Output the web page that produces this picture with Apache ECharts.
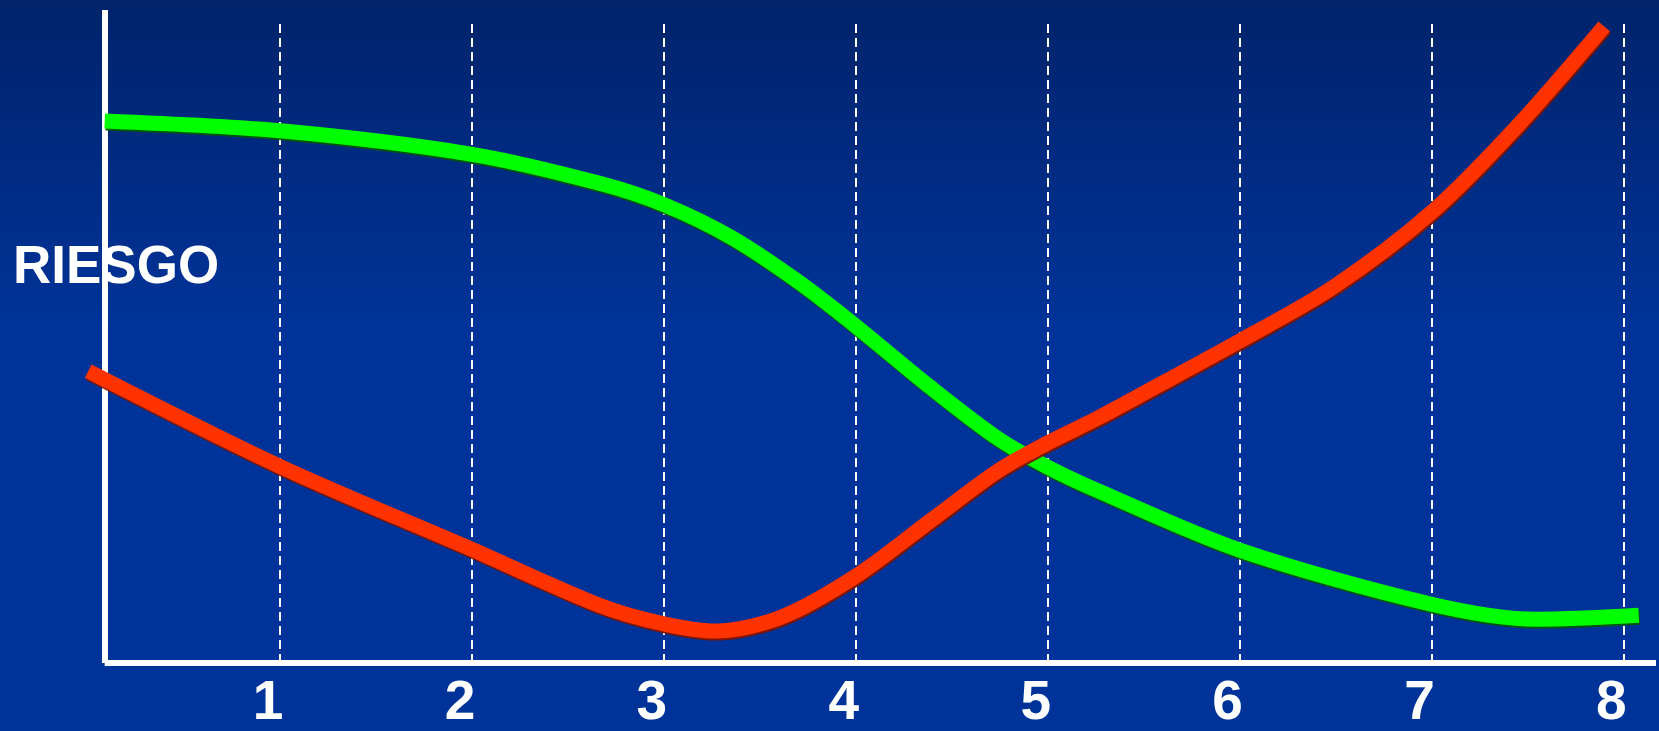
<!DOCTYPE html>
<html>
<head>
<meta charset="utf-8">
<script src="https://cdn.jsdelivr.net/npm/echarts@6/dist/echarts.min.js"></script>
<style>
html,body{margin:0;padding:0;width:1659px;height:731px;overflow:hidden;background:#003399;}
#chart{width:1659px;height:731px;}
</style>
</head>
<body>
<div id="chart"></div>
<script>
// ---- data ----
const xTicks = [1, 2, 3, 4, 5, 6, 7, 8];
const xTickLabels = ['1', '2', '3', '4', '5', '6', '7', '8'];
const yTitle = 'RIESGO';

const greenX = [0.086, 1, 2, 2.66, 3, 3.35, 3.7, 4, 4.39, 4.74, 5, 5.26, 6, 7, 7.55, 8.08];
const greenY = [83.0, 81.5, 77.9, 73.5, 70.2, 65.2, 58.4, 51.6, 42.2, 34.4, 30.0, 26.4, 17.3, 9.0, 6.7, 7.3];

const redX = [0, 1, 2, 2.66, 3, 3.27, 3.61, 4, 4.39, 4.74, 5, 5.26, 5.5, 6, 6.49, 7, 7.45, 7.9];
const redY = [44.7, 30.1, 17.4, 8.9, 6.0, 4.9, 7.0, 13.3, 21.8, 29.4, 33.7, 37.5, 41.3, 49.3, 57.6, 69.0, 82.3, 97.5];

// ---- layout constants ----
const X_MAX = 8.17;
const Y_MAX = 100;
const AXIS_X = 0.086;     // where the vertical axis stands
const DASH_TOP = 97.9;    // top of dashed guide lines

const chart = echarts.init(document.getElementById('chart'), null, {renderer: 'canvas'});

const zip = (xs, ys) => xs.map((x, i) => [x, ys[i]]);

const guideLines = xTicks.map(t => [{coord: [t, 0]}, {coord: [t, DASH_TOP]}]);
const axisLines = [
  [{coord: [AXIS_X, 0]}, {coord: [AXIS_X, Y_MAX]}],
  [{coord: [AXIS_X, 0]}, {coord: [X_MAX, 0]}]
];

const option = {
  animation: false,
  backgroundColor: {
    type: 'linear', x: 0, y: 0, x2: 0, y2: 1,
    colorStops: [
      {offset: 0, color: '#00236B'},
      {offset: 0.45, color: '#003399'},
      {offset: 1, color: '#003399'}
    ]
  },
  title: {
    text: yTitle,
    left: 13,
    top: 242,
    padding: 0,
    textStyle: {
      color: '#ffffff',
      fontSize: 53,
      fontWeight: 'bold',
      fontFamily: 'Liberation Sans, Arial, sans-serif'
    }
  },
  grid: {left: 88.2, right: 0, top: 10, bottom: 66, containLabel: false},
  xAxis: {
    type: 'value',
    min: 0,
    max: X_MAX,
    interval: 1,
    axisLine: {show: false},
    axisTick: {show: false},
    splitLine: {show: false},
    axisLabel: {
      show: true,
      margin: 13,
      padding: [0, 24, 0, 0],
      color: '#ffffff',
      fontSize: 55,
      fontWeight: 'bold',
      fontFamily: 'Liberation Sans, Arial, sans-serif',
      textShadowColor: 'rgba(0,0,0,0.85)',
      textShadowOffsetX: 3,
      textShadowOffsetY: 3,
      textShadowBlur: 0,
      formatter: v => {
        const i = xTicks.indexOf(Math.round(v));
        return (i >= 0 && Math.abs(v - xTicks[i]) < 1e-6) ? xTickLabels[i] : '';
      }
    }
  },
  yAxis: {
    type: 'value',
    min: 0,
    max: Y_MAX,
    show: false
  },
  series: [
    {
      name: 'guides',
      type: 'line',
      data: [],
      clip: false,
      silent: true,
      z: 1,
      markLine: {
        silent: true,
        symbol: ['none', 'none'],
        label: {show: false},
        animation: false,
        lineStyle: {color: '#ffffff', width: 2, type: [9, 5], opacity: 1},
        data: guideLines
      }
    },
    {
      name: 'axes',
      type: 'line',
      data: [],
      clip: false,
      silent: true,
      z: 2,
      markLine: {
        silent: true,
        symbol: ['none', 'none'],
        label: {show: false},
        animation: false,
        lineStyle: {color: '#ffffff', width: 6, type: 'solid', opacity: 1},
        data: axisLines
      }
    },
    {
      name: 'verde',
      type: 'line',
      data: zip(greenX, greenY),
      smooth: 0.3,
      showSymbol: false,
      clip: false,
      z: 5,
      lineStyle: {
        color: '#00FF00',
        width: 15,
        cap: 'butt',
        shadowColor: 'rgba(0,90,0,0.9)',
        shadowBlur: 0,
        shadowOffsetX: 1,
        shadowOffsetY: 2
      }
    },
    {
      name: 'rojo',
      type: 'line',
      data: zip(redX, redY),
      smooth: 0.3,
      showSymbol: false,
      clip: false,
      z: 6,
      lineStyle: {
        color: '#FF3300',
        width: 15,
        cap: 'butt',
        shadowColor: 'rgba(130,20,0,0.95)',
        shadowBlur: 0,
        shadowOffsetX: 1,
        shadowOffsetY: 2
      }
    }
  ]
};

chart.setOption(option);
</script>
</body>
</html>
